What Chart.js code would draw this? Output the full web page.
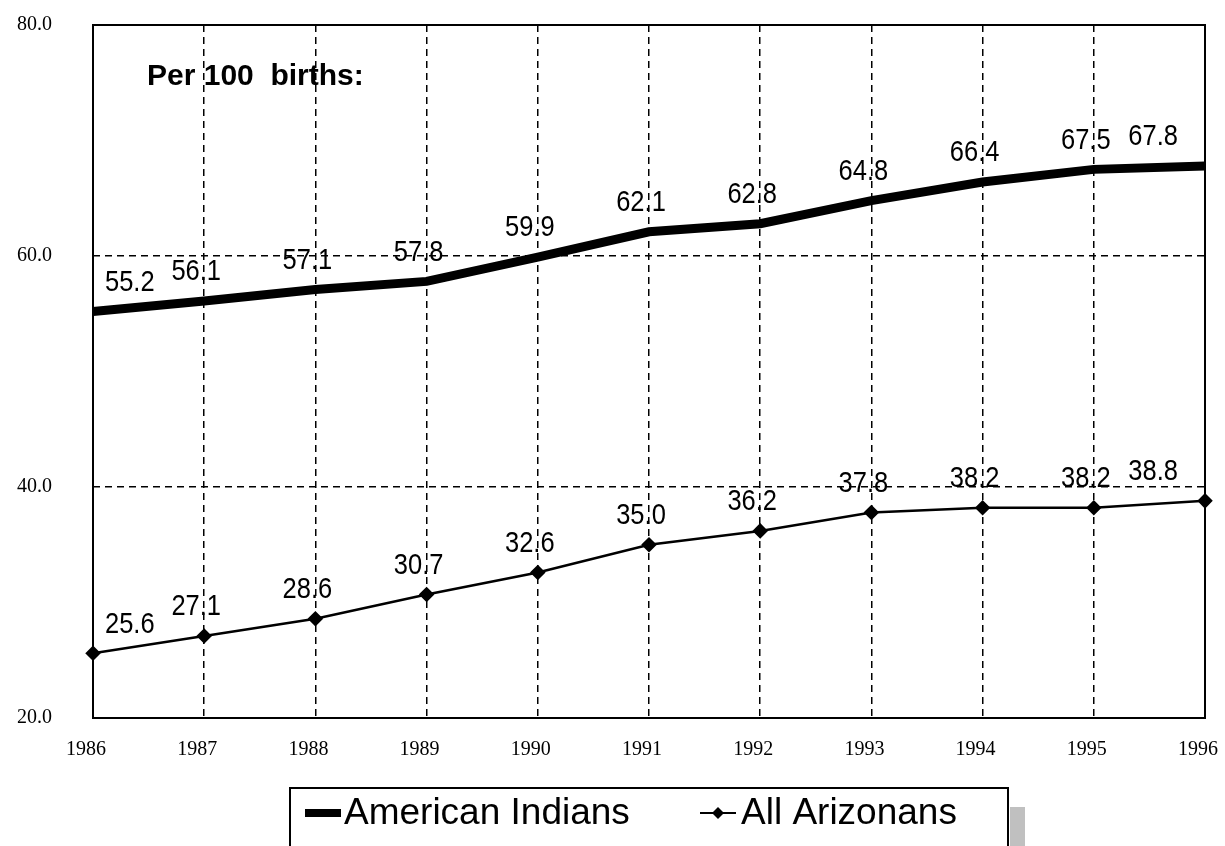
<!DOCTYPE html>
<html>
<head>
<meta charset="utf-8">
<style>
  html, body { margin: 0; padding: 0; background: #fff; }
  #wrap { width: 1225px; height: 846px; position: relative; }
</style>
<script src="https://cdn.jsdelivr.net/npm/chart.js@4.4.1/dist/chart.umd.min.js"></script>
</head>
<body>
<div id="wrap"><canvas id="birthChart" width="1225" height="846"></canvas></div>
<script>
const years = ['1986', '1987', '1988', '1989', '1990', '1991', '1992', '1993', '1994', '1995', '1996'];
const americanIndians = [55.2, 56.1, 57.1, 57.8, 59.9, 62.1, 62.8, 64.8, 66.4, 67.5, 67.8];
const allArizonans = [25.6, 27.1, 28.6, 30.7, 32.6, 35.0, 36.2, 37.8, 38.2, 38.2, 38.8];
const yTicks = [20, 40, 60, 80];

// value labels above each point (squeezed horizontally like the original)
const valueLabels = {
    id: 'valueLabels',
    afterDatasetsDraw(chart) {
        const ctx = chart.ctx;
        const sx = 0.85;
        ctx.save();
        ctx.font = '30px "Liberation Sans", Arial, sans-serif';
        ctx.fillStyle = '#000';
        ctx.textBaseline = 'middle';
        chart.data.datasets.forEach((ds, i) => {
            const meta = chart.getDatasetMeta(i);
            meta.data.forEach((pt, j) => {
                let x = pt.x;
                if (j === 0) { ctx.textAlign = 'left'; x += 12; }
                else if (j === ds.data.length - 1) { ctx.textAlign = 'right'; x -= 27; }
                else { ctx.textAlign = 'center'; x -= 8; }
                ctx.save();
                ctx.translate(x, pt.y - 29);
                ctx.scale(sx, 1);
                ctx.fillText(ds.data[j].toFixed(1), 0, 0);
                ctx.restore();
            });
        });
        ctx.restore();
    }
};

// plot frame, note text and boxed legend
const frameAndLegend = {
    id: 'frameAndLegend',
    beforeDatasetsDraw(chart) {
        const { ctx, chartArea: a } = chart;
        ctx.save();
        ctx.strokeStyle = '#000';
        ctx.lineWidth = 2;
        ctx.strokeRect(a.left, a.top, a.right - a.left, a.bottom - a.top);
        ctx.font = 'bold 30px "Liberation Sans", Arial, sans-serif';
        ctx.fillStyle = '#000';
        ctx.textBaseline = 'middle';
        ctx.textAlign = 'left';
        ctx.fillText('Per 100  births:', 147, 77);
        ctx.restore();
    },
    afterDraw(chart) {
        const ctx = chart.ctx;
        ctx.save();
        // shadow
        ctx.fillStyle = '#c0c0c0';
        ctx.fillRect(1010, 807, 15, 50);
        // box
        ctx.fillStyle = '#fff';
        ctx.fillRect(290, 788, 718, 70);
        ctx.strokeStyle = '#000';
        ctx.lineWidth = 2;
        ctx.strokeRect(290, 788, 718, 70);
        const ly = 813;
        ctx.font = '37px "Liberation Sans", Arial, sans-serif';
        ctx.fillStyle = '#000';
        ctx.textBaseline = 'middle';
        ctx.textAlign = 'left';
        // American Indians sample
        ctx.lineWidth = 8;
        ctx.beginPath(); ctx.moveTo(305, ly); ctx.lineTo(341, ly); ctx.stroke();
        ctx.fillText(chart.data.datasets[0].label, 344, ly + 1);
        // All Arizonans sample
        ctx.lineWidth = 2;
        ctx.beginPath(); ctx.moveTo(700, ly); ctx.lineTo(736, ly); ctx.stroke();
        ctx.beginPath();
        ctx.moveTo(718, ly - 6); ctx.lineTo(724, ly); ctx.lineTo(718, ly + 6); ctx.lineTo(712, ly);
        ctx.closePath(); ctx.fill();
        ctx.fillText(chart.data.datasets[1].label, 741, ly + 1);
        ctx.restore();
    }
};

const edgeHidden = (ctx) => {
    const n = ctx.scale.ticks.length;
    return (ctx.index === 0 || ctx.index === n - 1) ? 'rgba(0,0,0,0)' : '#000';
};

new Chart(document.getElementById('birthChart'), {
    type: 'line',
    data: {
        labels: years,
        datasets: [{
            label: 'American Indians',
            data: americanIndians,
            borderColor: '#000',
            borderWidth: 9,
            pointRadius: 0,
            tension: 0,
            clip: false
        }, {
            label: 'All Arizonans',
            data: allArizonans,
            borderColor: '#000',
            backgroundColor: '#000',
            borderWidth: 2.5,
            pointStyle: 'rectRot',
            pointRadius: 6,
            pointBackgroundColor: '#000',
            tension: 0,
            clip: false
        }]
    },
    options: {
        responsive: false,
        animation: false,
        layout: { padding: { top: 25, right: 20, left: 0, bottom: 78 } },
        plugins: { legend: { display: false }, tooltip: { enabled: false } },
        scales: {
            x: {
                offset: false,
                grid: { color: edgeHidden, lineWidth: 1.5, drawTicks: false },
                border: { display: false, dash: [7, 5] },
                ticks: {
                    color: '#000',
                    padding: 20,
                    labelOffset: -7,
                    maxRotation: 0,
                    font: { family: '"Liberation Serif", serif', size: 20 }
                },
                afterFit(scale) {
                    scale.height = 50;
                    scale.paddingLeft = 0;
                    scale.paddingRight = 0;
                }
            },
            y: {
                min: 20,
                max: 80,
                afterBuildTicks(scale) { scale.ticks = yTicks.map(v => ({ value: v })); },
                grid: { color: edgeHidden, lineWidth: 1.5, drawTicks: false },
                border: { display: false, dash: [7, 5] },
                ticks: {
                    color: '#000',
                    padding: 41,
                    callback: v => Number(v).toFixed(1),
                    font: { family: '"Liberation Serif", serif', size: 20 }
                },
                afterFit(scale) {
                    scale.width = 93;
                    scale.paddingTop = 0;
                    scale.paddingBottom = 0;
                }
            }
        }
    },
    plugins: [frameAndLegend, valueLabels]
});
</script>
</body>
</html>
